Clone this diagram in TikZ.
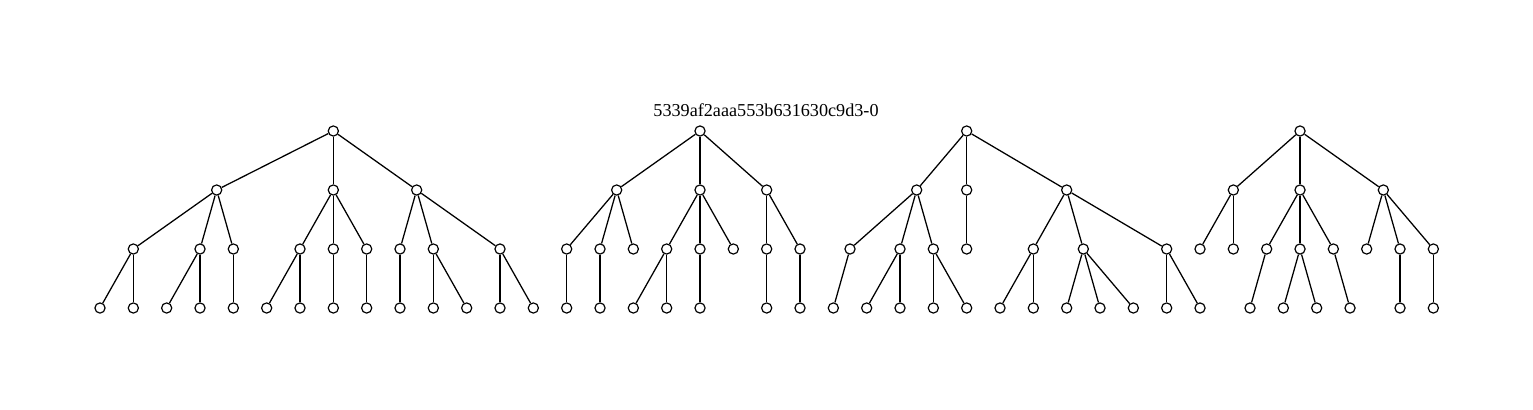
\documentclass[tikz,border=0pt]{standalone}
\usepackage{fontspec}
\setmainfont{Liberation Serif}
\usepackage{tikz}
\usetikzlibrary{positioning}
\usetikzlibrary{calc}

\begin{document}
\begin{tikzpicture}[
    x=18.333pt, y=32.45pt,
    vertex/.style={circle, draw=black, fill=white, line width=0.65pt, inner sep=0pt, minimum size=5.6pt},
    edge/.style={line width=0.7pt}
]
    \useasboundingbox (0,2.2203) rectangle (45.99,-4.7119);

    \node[] (Title) at (22.98, 0.356) {5339af2aaa553b631630c9d3-0};

    % First tree
    \node[vertex] (R1) at (10, 0) {};
    \node[vertex] (R1a) at (6.5, -1) {};
    \node[vertex] (R1b) at (10, -1) {};
    \node[vertex] (R1c) at (12.5, -1) {};
    \node[vertex] (R1aa) at (4, -2) {};
    \node[vertex] (R1ab) at (6, -2) {};
    \node[vertex] (R1ac) at (7, -2) {};
    \node[vertex] (R1ba) at (9, -2) {};
    \node[vertex] (R1bb) at (10, -2) {};
    \node[vertex] (R1bc) at (11, -2) {};
    \node[vertex] (R1ca) at (12, -2) {};
    \node[vertex] (R1cb) at (13, -2) {};
    \node[vertex] (R1cc) at (15, -2) {};
    \node[vertex] (R1aaa) at (3, -3) {};
    \node[vertex] (R1aab) at (4, -3) {};
    \node[vertex] (R1aba) at (5, -3) {};
    \node[vertex] (R1abb) at (6, -3) {};
    \node[vertex] (R1aca) at (7, -3) {};
    \node[vertex] (R1baa) at (8, -3) {};
    \node[vertex] (R1bab) at (9, -3) {};
    \node[vertex] (R1bba) at (10, -3) {};
    \node[vertex] (R1bca) at (11, -3) {};
    \node[vertex] (R1caa) at (12, -3) {};
    \node[vertex] (R1cba) at (13, -3) {};
    \node[vertex] (R1cbb) at (14, -3) {};
    \node[vertex] (R1cca) at (15, -3) {};
    \node[vertex] (R1ccb) at (16, -3) {};

    \draw[edge] (R1) -- (R1a);
    \draw[edge] (R1) -- (R1b);
    \draw[edge] (R1) -- (R1c);
    \draw[edge] (R1a) -- (R1aa);
    \draw[edge] (R1a) -- (R1ab);
    \draw[edge] (R1a) -- (R1ac);
    \draw[edge] (R1b) -- (R1ba);
    \draw[edge] (R1b) -- (R1bb);
    \draw[edge] (R1b) -- (R1bc);
    \draw[edge] (R1c) -- (R1ca);
    \draw[edge] (R1c) -- (R1cb);
    \draw[edge] (R1c) -- (R1cc);
    \draw[edge] (R1aa) -- (R1aaa);
    \draw[edge] (R1aa) -- (R1aab);
    \draw[edge] (R1ab) -- (R1aba);
    \draw[edge] (R1ab) -- (R1abb);
    \draw[edge] (R1ac) -- (R1aca);
    \draw[edge] (R1ba) -- (R1baa);
    \draw[edge] (R1ba) -- (R1bab);
    \draw[edge] (R1bb) -- (R1bba);
    \draw[edge] (R1bc) -- (R1bca);
    \draw[edge] (R1ca) -- (R1caa);
    \draw[edge] (R1cb) -- (R1cba);
    \draw[edge] (R1cb) -- (R1cbb);
    \draw[edge] (R1cc) -- (R1cca);
    \draw[edge] (R1cc) -- (R1ccb);

    % Second tree
    \node[vertex] (R2) at (21, 0) {};
    \node[vertex] (R2a) at (18.5, -1) {};
    \node[vertex] (R2b) at (21, -1) {};
    \node[vertex] (R2c) at (23, -1) {};
    \node[vertex] (R2aa) at (17, -2) {};
    \node[vertex] (R2ab) at (18, -2) {};
    \node[vertex] (R2ac) at (19, -2) {};
    \node[vertex] (R2ba) at (20, -2) {};
    \node[vertex] (R2bb) at (21, -2) {};
    \node[vertex] (R2bc) at (22, -2) {};
    \node[vertex] (R2ca) at (23, -2) {};
    \node[vertex] (R2cb) at (24, -2) {};
    \node[vertex] (R2aaa) at (17, -3) {};
    \node[vertex] (R2aba) at (18, -3) {};
    \node[vertex] (R2baa) at (19, -3) {};
    \node[vertex] (R2bab) at (20, -3) {};
    \node[vertex] (R2bba) at (21, -3) {};
    \node[vertex] (R2caa) at (23, -3) {};
    \node[vertex] (R2cba) at (24, -3) {};

    \draw[edge] (R2) -- (R2a);
    \draw[edge] (R2) -- (R2b);
    \draw[edge] (R2) -- (R2c);
    \draw[edge] (R2a) -- (R2aa);
    \draw[edge] (R2a) -- (R2ab);
    \draw[edge] (R2a) -- (R2ac);
    \draw[edge] (R2b) -- (R2ba);
    \draw[edge] (R2b) -- (R2bb);
    \draw[edge] (R2b) -- (R2bc);
    \draw[edge] (R2c) -- (R2ca);
    \draw[edge] (R2c) -- (R2cb);
    \draw[edge] (R2aa) -- (R2aaa);
    \draw[edge] (R2ab) -- (R2aba);
    \draw[edge] (R2ba) -- (R2baa);
    \draw[edge] (R2ba) -- (R2bab);
    \draw[edge] (R2bb) -- (R2bba);
    \draw[edge] (R2ca) -- (R2caa);
    \draw[edge] (R2cb) -- (R2cba);

    % Third tree
    \node[vertex] (R3) at (29, 0) {};
    \node[vertex] (R3a) at (27.5, -1) {};
    \node[vertex] (R3b) at (29, -1) {};
    \node[vertex] (R3c) at (32, -1) {};
    \node[vertex] (R3aa) at (25.5, -2) {};
    \node[vertex] (R3ab) at (27, -2) {};
    \node[vertex] (R3ac) at (28, -2) {};
    \node[vertex] (R3ba) at (29, -2) {};
    \node[vertex] (R3ca) at (31, -2) {};
    \node[vertex] (R3cb) at (32.5, -2) {};
    \node[vertex] (R3cc) at (35, -2) {};
    \node[vertex] (R3aaa) at (25, -3) {};
    \node[vertex] (R3aba) at (26, -3) {};
    \node[vertex] (R3abb) at (27, -3) {};
    \node[vertex] (R3aca) at (28, -3) {};
    \node[vertex] (R3acb) at (29, -3) {};
    \node[vertex] (R3caa) at (30, -3) {};
    \node[vertex] (R3cab) at (31, -3) {};
    \node[vertex] (R3cba) at (32, -3) {};
    \node[vertex] (R3cbb) at (33, -3) {};
    \node[vertex] (R3cbc) at (34, -3) {};
    \node[vertex] (R3cca) at (35, -3) {};
    \node[vertex] (R3ccb) at (36, -3) {};

    \draw[edge] (R3) -- (R3a);
    \draw[edge] (R3) -- (R3b);
    \draw[edge] (R3) -- (R3c);
    \draw[edge] (R3a) -- (R3aa);
    \draw[edge] (R3a) -- (R3ab);
    \draw[edge] (R3a) -- (R3ac);
    \draw[edge] (R3b) -- (R3ba);
    \draw[edge] (R3c) -- (R3ca);
    \draw[edge] (R3c) -- (R3cb);
    \draw[edge] (R3c) -- (R3cc);
    \draw[edge] (R3aa) -- (R3aaa);
    \draw[edge] (R3ab) -- (R3aba);
    \draw[edge] (R3ab) -- (R3abb);
    \draw[edge] (R3ac) -- (R3aca);
    \draw[edge] (R3ac) -- (R3acb);
    \draw[edge] (R3ca) -- (R3caa);
    \draw[edge] (R3ca) -- (R3cab);
    \draw[edge] (R3cb) -- (R3cba);
    \draw[edge] (R3cb) -- (R3cbb);
    \draw[edge] (R3cb) -- (R3cbc);
    \draw[edge] (R3cc) -- (R3cca);
    \draw[edge] (R3cc) -- (R3ccb);

    % Fourth tree
    \node[vertex] (R4) at (39, 0) {};
    \node[vertex] (R4a) at (37, -1) {};
    \node[vertex] (R4b) at (39, -1) {};
    \node[vertex] (R4c) at (41.5, -1) {};
    \node[vertex] (R4aa) at (36, -2) {};
    \node[vertex] (R4ab) at (37, -2) {};
    \node[vertex] (R4ba) at (38, -2) {};
    \node[vertex] (R4bb) at (39, -2) {};
    \node[vertex] (R4bc) at (40, -2) {};
    \node[vertex] (R4ca) at (41, -2) {};
    \node[vertex] (R4cb) at (42, -2) {};
    \node[vertex] (R4cc) at (43, -2) {};
    \node[vertex] (R4baa) at (37.5, -3) {};
    \node[vertex] (R4bba) at (38.5, -3) {};
    \node[vertex] (R4bbb) at (39.5, -3) {};
    \node[vertex] (R4bca) at (40.5, -3) {};
    \node[vertex] (R4cba) at (42, -3) {};
    \node[vertex] (R4cca) at (43, -3) {};

    \draw[edge] (R4) -- (R4a);
    \draw[edge] (R4) -- (R4b);
    \draw[edge] (R4) -- (R4c);
    \draw[edge] (R4a) -- (R4aa);
    \draw[edge] (R4a) -- (R4ab);
    \draw[edge] (R4b) -- (R4ba);
    \draw[edge] (R4b) -- (R4bb);
    \draw[edge] (R4b) -- (R4bc);
    \draw[edge] (R4c) -- (R4ca);
    \draw[edge] (R4c) -- (R4cb);
    \draw[edge] (R4c) -- (R4cc);
    \draw[edge] (R4ba) -- (R4baa);
    \draw[edge] (R4bb) -- (R4bba);
    \draw[edge] (R4bb) -- (R4bbb);
    \draw[edge] (R4bc) -- (R4bca);
    \draw[edge] (R4cb) -- (R4cba);
    \draw[edge] (R4cc) -- (R4cca);
\end{tikzpicture}
\end{document}
